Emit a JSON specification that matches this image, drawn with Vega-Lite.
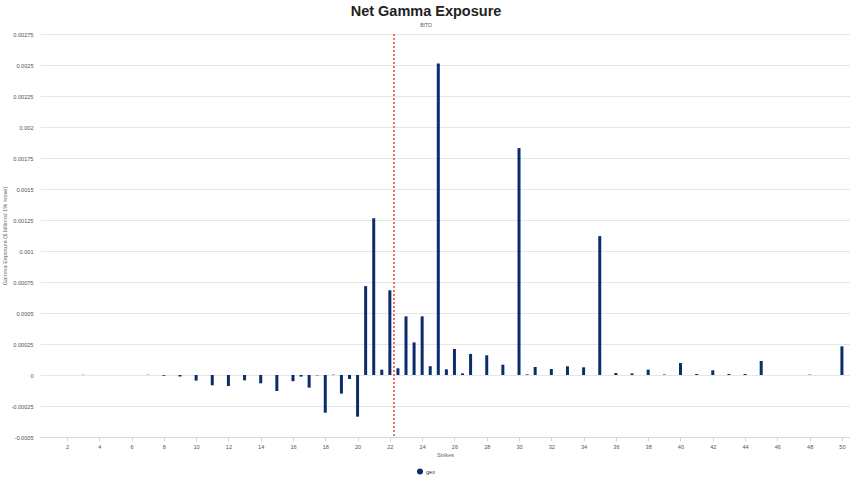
{
  "$schema": "https://vega.github.io/schema/vega-lite/v6.json",
  "width": 810,
  "height": 403,
  "autosize": {"type": "none"},
  "padding": {"left": 40, "top": 34, "right": 0, "bottom": 43},
  "background": "#ffffff",
  "title": {
    "text": "Net Gamma Exposure",
    "subtitle": "BITO",
    "frame": "bounds",
    "anchor": "middle",
    "font": "Liberation Sans",
    "fontSize": 14.5,
    "fontWeight": "bold",
    "color": "#222222",
    "subtitleFont": "Liberation Sans",
    "subtitleFontSize": 5,
    "subtitleColor": "#555555",
    "subtitlePadding": 4,
    "offset": 3
  },
  "config": {
    "view": {"stroke": null},
    "font": "Liberation Sans",
    "axisX": {"labelOverlap": false},
    "scale": {"continuousPadding": 0}
  },
  "data": {
    "values": [
      {"strike": 3, "gex": 0.000002, "series": "gex"},
      {"strike": 7, "gex": 0.000002, "series": "gex"},
      {"strike": 8, "gex": -0.000006, "series": "gex"},
      {"strike": 9, "gex": -0.000012, "series": "gex"},
      {"strike": 10, "gex": -0.000045, "series": "gex"},
      {"strike": 11, "gex": -0.000083, "series": "gex"},
      {"strike": 12, "gex": -0.000089, "series": "gex"},
      {"strike": 13, "gex": -0.000043, "series": "gex"},
      {"strike": 14, "gex": -0.000067, "series": "gex"},
      {"strike": 15, "gex": -0.000129, "series": "gex"},
      {"strike": 16, "gex": -0.00005, "series": "gex"},
      {"strike": 16.5, "gex": -0.000013, "series": "gex"},
      {"strike": 17, "gex": -0.000102, "series": "gex"},
      {"strike": 17.5, "gex": -0.000003, "series": "gex"},
      {"strike": 18, "gex": -0.000304, "series": "gex"},
      {"strike": 18.5, "gex": 0.000003, "series": "gex"},
      {"strike": 19, "gex": -0.00015, "series": "gex"},
      {"strike": 19.5, "gex": -0.000032, "series": "gex"},
      {"strike": 20, "gex": -0.000336, "series": "gex"},
      {"strike": 20.5, "gex": 0.000717, "series": "gex"},
      {"strike": 21, "gex": 0.001264, "series": "gex"},
      {"strike": 21.5, "gex": 0.000043, "series": "gex"},
      {"strike": 22, "gex": 0.000683, "series": "gex"},
      {"strike": 22.5, "gex": 0.000054, "series": "gex"},
      {"strike": 23, "gex": 0.000473, "series": "gex"},
      {"strike": 23.5, "gex": 0.000263, "series": "gex"},
      {"strike": 24, "gex": 0.000473, "series": "gex"},
      {"strike": 24.5, "gex": 0.000071, "series": "gex"},
      {"strike": 25, "gex": 0.002512, "series": "gex"},
      {"strike": 25.5, "gex": 0.000046, "series": "gex"},
      {"strike": 26, "gex": 0.00021, "series": "gex"},
      {"strike": 26.5, "gex": 0.000013, "series": "gex"},
      {"strike": 27, "gex": 0.00017, "series": "gex"},
      {"strike": 28, "gex": 0.000159, "series": "gex"},
      {"strike": 29, "gex": 0.000083, "series": "gex"},
      {"strike": 30, "gex": 0.00183, "series": "gex"},
      {"strike": 30.5, "gex": 0.000005, "series": "gex"},
      {"strike": 31, "gex": 0.000065, "series": "gex"},
      {"strike": 32, "gex": 0.000048, "series": "gex"},
      {"strike": 33, "gex": 0.00007, "series": "gex"},
      {"strike": 34, "gex": 0.000062, "series": "gex"},
      {"strike": 35, "gex": 0.00112, "series": "gex"},
      {"strike": 36, "gex": 0.000016, "series": "gex"},
      {"strike": 37, "gex": 0.000013, "series": "gex"},
      {"strike": 38, "gex": 0.000043, "series": "gex"},
      {"strike": 39, "gex": 0.000004, "series": "gex"},
      {"strike": 40, "gex": 0.000097, "series": "gex"},
      {"strike": 41, "gex": 0.000008, "series": "gex"},
      {"strike": 42, "gex": 0.000038, "series": "gex"},
      {"strike": 43, "gex": 0.000008, "series": "gex"},
      {"strike": 44, "gex": 0.000008, "series": "gex"},
      {"strike": 45, "gex": 0.000113, "series": "gex"},
      {"strike": 48, "gex": 0.000003, "series": "gex"},
      {"strike": 50, "gex": 0.000231, "series": "gex"}
    ]
  },
  "layer": [
    {
      "mark": {"type": "bar", "size": 3, "color": "#0b2d6c"},
      "encoding": {
        "x": {
          "field": "strike",
          "type": "quantitative",
          "scale": {"domain": [0.33, 50.5], "nice": false, "zero": false, "padding": 0},
          "axis": {
            "title": "Strikes",
            "titleFont": "Liberation Sans",
            "titleFontSize": 5.6,
            "titleFontWeight": "normal",
            "titleColor": "#666666",
            "titlePadding": 3,
            "values": [2,4,6,8,10,12,14,16,18,20,22,24,26,28,30,32,34,36,38,40,42,44,46,48,50],
            "tickCount": 40,
            "labelOverlap": false,
            "labelFontSize": 5.6,
            "labelColor": "#555555",
            "labelPadding": 3,
            "domainColor": "#ccd6eb",
            "tickColor": "#ccd6eb",
            "tickSize": 4,
            "grid": false
          }
        },
        "y": {
          "field": "gex",
          "type": "quantitative",
          "scale": {"domain": [-0.0005, 0.00275], "nice": false},
          "axis": {
            "title": "Gamma Exposure ($ billions/ 1% move)",
            "titleFont": "Liberation Sans",
            "titleFontSize": 5.6,
            "titleFontWeight": "normal",
            "titleColor": "#666666",
            "titleX": -33,
            "titleY": 201.5,
            "titleAngle": -90,
            "titleAlign": "center",
            "titleBaseline": "bottom",
            "values": [-0.0005,-0.00025,0,0.00025,0.0005,0.00075,0.001,0.00125,0.0015,0.00175,0.002,0.00225,0.0025,0.00275],
            "tickCount": 30,
            "labelExpr": "replace(format(datum.value, '~g'), '−', '-')",
            "labelOverlap": false,
            "labelFontSize": 5.6,
            "labelColor": "#555555",
            "labelPadding": 7,
            "domain": false,
            "ticks": false,
            "grid": true,
            "gridColor": "#e6e6e6"
          }
        },
        "fill": {
          "field": "series",
          "type": "nominal",
          "scale": {"range": ["#0b2d6c"]},
          "legend": {
            "title": null,
            "orient": "none",
            "legendX": 377,
            "legendY": 434.5,
            "symbolType": "circle",
            "symbolSize": 36,
            "symbolStrokeWidth": 0,
            "labelFontSize": 5.6,
            "labelOffset": 3,
            "labelColor": "#333333"
          }
        }
      }
    },
    {
      "mark": {"type": "rule", "color": "#ff6b6b", "strokeWidth": 1, "strokeDash": [2, 2]},
      "encoding": {"x": {"datum": 22.25, "type": "quantitative"}}
    }
  ]
}
